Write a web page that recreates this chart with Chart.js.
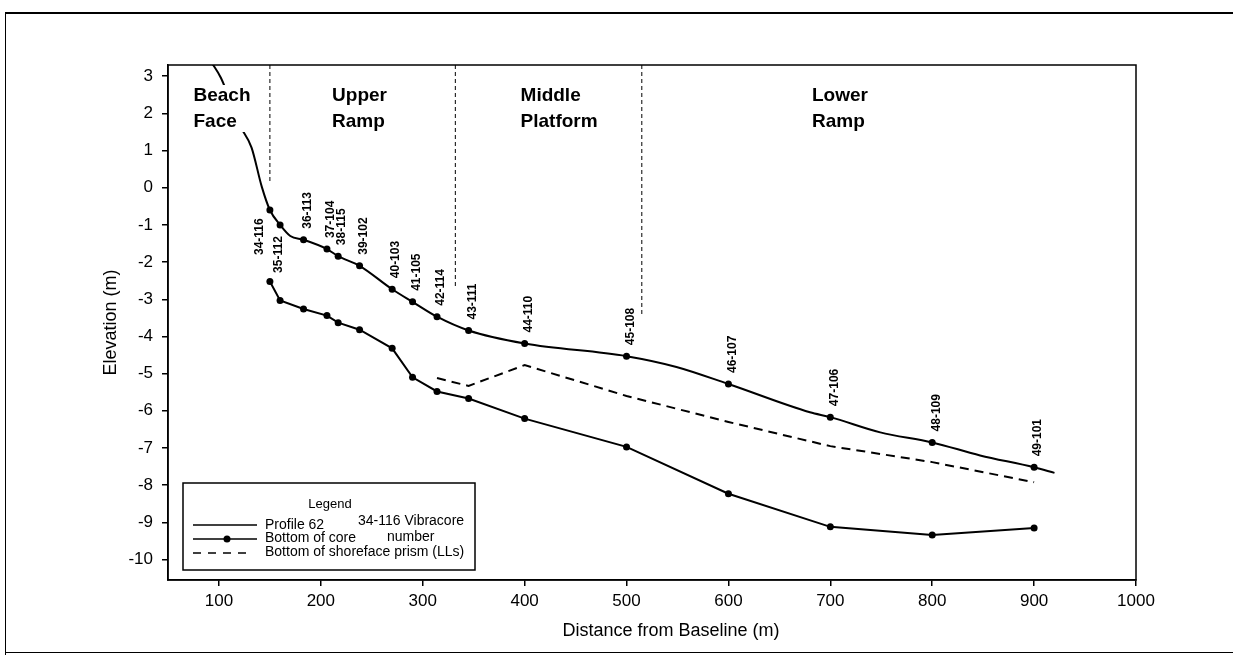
<!DOCTYPE html>
<html>
<head>
<meta charset="utf-8">
<title>Profile 62 - Vibracores</title>
<script src="https://cdn.jsdelivr.net/npm/chart.js@4.4.1/dist/chart.umd.min.js"></script>
<style>
  html, body { margin: 0; padding: 0; background: #fff; }
  #wrap { width: 1233px; height: 655px; position: relative; }
</style>
</head>
<body>
<div id="wrap"><canvas id="grafico"></canvas></div>
<script>
// Vibracores: distance from baseline, id, top (profile) and bottom elevation
const coreX = [150, 160, 183, 206, 217, 238, 270, 290, 314, 345, 400, 500, 600, 700, 800, 900];
const coreIds = ['34-116', '35-112', '36-113', '37-104', '38-115', '39-102', '40-103', '41-105',
                 '42-114', '43-111', '44-110', '45-108', '46-107', '47-106', '48-109', '49-101'];
const coreTop = [-0.6, -1.0, -1.4, -1.65, -1.84, -2.1, -2.73, -3.07, -3.47, -3.84, -4.19, -4.53, -5.28, -6.17, -6.85, -7.52];
const coreBottom = [-2.52, -3.03, -3.26, -3.44, -3.63, -3.82, -4.32, -5.10, -5.48, -5.67, -6.21, -6.97, -8.23, -9.12, -9.34, -9.15];

// Profile 62
const profileX = [92, 102, 120, 132, 142, 150, 160, 170, 183, 206, 217, 238, 270, 290, 314, 345, 400, 500, 549, 600, 680, 700, 749, 800, 847, 900, 920];
const profileY = [3.4, 2.95, 1.7, 1.08, 0.03, -0.6, -1.0, -1.3, -1.4, -1.65, -1.84, -2.1, -2.73, -3.07, -3.47, -3.84, -4.19, -4.53, -4.82, -5.28, -6.04, -6.17, -6.58, -6.85, -7.2, -7.52, -7.67];

// Bottom of shoreface prism (LLs)
const prismX = [314, 345, 400, 500, 600, 700, 800, 900];
const prismY = [-5.12, -5.33, -4.77, -5.6, -6.3, -6.95, -7.38, -7.92];

// Zones
const zoneX = [150, 332, 515];
const zoneLow = [0.15, -2.7, -3.45];
const zoneNames = [['Beach', 'Face'], ['Upper', 'Ramp'], ['Middle', 'Platform'], ['Lower', 'Ramp']];
const zoneLabelX = [75, 211, 396, 682];

const xTicks = [100, 200, 300, 400, 500, 600, 700, 800, 900, 1000];
const yTicks = [3, 2, 1, 0, -1, -2, -3, -4, -5, -6, -7, -8, -9, -10];

const FONT = '"Liberation Sans", Arial, Helvetica, sans-serif';
const Y_MIN = -10.55, Y_MAX = 3.3;

// labels that sit off the usual spot (index -> [dx, dy])
const labelShift = { 0: [-10, 45], 1: [-1, 48] };

const pts = (xs, ys) => xs.map((x, i) => ({ x: x, y: ys[i] }));

const zoneDatasets = zoneX.map((x, i) => ({
    data: [{ x: x, y: Y_MAX }, { x: x, y: zoneLow[i] }],
    showLine: true, borderColor: '#000', borderWidth: 1, borderDash: [4, 3], pointRadius: 0
}));

const decor = {
    id: 'decor',
    afterDraw(chart) {
        const { ctx, chartArea: a, scales: { x, y } } = chart;
        ctx.save();

        // plot frame
        ctx.strokeStyle = '#000';
        ctx.lineWidth = 1.5;
        ctx.strokeRect(a.left, a.top, a.right - a.left, a.bottom - a.top);

        // outer frame
        ctx.lineWidth = 2;
        ctx.beginPath(); ctx.moveTo(5, 13); ctx.lineTo(1233, 13); ctx.stroke();
        ctx.lineWidth = 1;
        ctx.beginPath(); ctx.moveTo(5.5, 13); ctx.lineTo(5.5, 655); ctx.stroke();
        ctx.beginPath(); ctx.moveTo(5, 652.5); ctx.lineTo(1233, 652.5); ctx.stroke();

        // zone names (white block hides the profile behind them)
        ctx.font = 'bold 19px ' + FONT;
        ctx.textAlign = 'left';
        ctx.textBaseline = 'alphabetic';
        zoneNames.forEach((lines, i) => {
            const px = x.getPixelForValue(zoneLabelX[i]);
            const w = Math.max(...lines.map(t => ctx.measureText(t).width));
            ctx.fillStyle = '#fff';
            ctx.fillRect(px - 1, a.top + 20, w + 2, 47);
            ctx.fillStyle = '#000';
            lines.forEach((t, j) => ctx.fillText(t, px, a.top + 35.5 + j * 26));
        });

        // vibracore numbers
        ctx.font = 'bold 12px ' + FONT;
        ctx.textBaseline = 'middle';
        coreIds.forEach((id, i) => {
            const s = labelShift[i] || [4, -11];
            ctx.save();
            ctx.translate(x.getPixelForValue(coreX[i]) + s[0], y.getPixelForValue(coreTop[i]) + s[1]);
            ctx.rotate(-Math.PI / 2);
            ctx.fillText(id, 0, 0);
            ctx.restore();
        });

        // axis titles
        ctx.font = '18px ' + FONT;
        ctx.textAlign = 'center';
        ctx.fillText('Distance from Baseline (m)', 671, 631);
        ctx.save();
        ctx.translate(111, (a.top + a.bottom) / 2);
        ctx.rotate(-Math.PI / 2);
        ctx.fillText('Elevation (m)', 0, 0);
        ctx.restore();

        // legend
        ctx.fillStyle = '#fff';
        ctx.fillRect(183, 483, 292, 87);
        ctx.lineWidth = 1.5;
        ctx.strokeRect(183, 483, 292, 87);
        ctx.fillStyle = '#000';
        ctx.font = '13px ' + FONT;
        ctx.fillText('Legend', 330, 504);
        ctx.font = '14px ' + FONT;
        ctx.textAlign = 'left';
        ctx.fillText('Profile 62', 265, 525);
        ctx.fillText('34-116 Vibracore', 358, 521);
        ctx.fillText('Bottom of core', 265, 538);
        ctx.fillText('number', 387, 537);
        ctx.fillText('Bottom of shoreface prism (LLs)', 265, 552);
        ctx.lineWidth = 1.5;
        ctx.beginPath(); ctx.moveTo(193, 525); ctx.lineTo(257, 525); ctx.stroke();
        ctx.beginPath(); ctx.moveTo(193, 539); ctx.lineTo(257, 539); ctx.stroke();
        ctx.beginPath(); ctx.arc(227, 539, 3.5, 0, Math.PI * 2); ctx.fill();
        ctx.setLineDash([8, 7]);
        ctx.beginPath(); ctx.moveTo(193, 553); ctx.lineTo(252, 553); ctx.stroke();
        ctx.restore();
    }
};

document.addEventListener('DOMContentLoaded', function () {
    const ctx = document.getElementById('grafico').getContext('2d');
    new Chart(ctx, {
        type: 'scatter',
        data: {
            datasets: zoneDatasets.concat([
                {
                    label: 'Bottom of shoreface prism (LLs)',
                    data: pts(prismX, prismY),
                    showLine: true, borderColor: '#000', borderWidth: 2, borderDash: [9, 6],
                    pointRadius: 0, tension: 0
                },
                {
                    label: 'Bottom of core',
                    data: pts(coreX, coreBottom),
                    showLine: true, borderColor: '#000', borderWidth: 2,
                    pointRadius: 3.5, backgroundColor: '#000', pointBorderWidth: 0
                },
                {
                    label: 'Profile 62',
                    data: pts(profileX, profileY),
                    showLine: true, borderColor: '#000', borderWidth: 2,
                    pointRadius: 0, cubicInterpolationMode: 'monotone'
                },
                {
                    label: 'Vibracore',
                    data: pts(coreX, coreTop),
                    showLine: false, pointRadius: 3.5, backgroundColor: '#000', pointBorderWidth: 0
                }
            ])
        },
        options: {
            responsive: true,
            maintainAspectRatio: false,
            animation: false,
            events: [],
            layout: { padding: { left: 0, top: 65, right: 97, bottom: 0 } },
            plugins: {
                legend: { display: false },
                tooltip: { enabled: false }
            },
            scales: {
                x: {
                    type: 'linear', min: 50, max: 1000,
                    afterBuildTicks: s => { s.ticks = xTicks.map(v => ({ value: v })); },
                    afterFit: s => { s.height = 75; },
                    grid: { drawOnChartArea: false, drawTicks: true, tickLength: 6, color: '#000', lineWidth: 1.5 },
                    border: { display: true, color: '#000', width: 1.5 },
                    ticks: {
                        color: '#000', font: { family: FONT, size: 17 }, padding: 5, autoSkip: false, maxRotation: 0,
                        callback: v => String(v)
                    }
                },
                y: {
                    type: 'linear', min: Y_MIN, max: Y_MAX,
                    afterBuildTicks: s => { s.ticks = yTicks.map(v => ({ value: v })); },
                    afterFit: s => { s.width = 168; },
                    grid: { drawOnChartArea: false, drawTicks: true, tickLength: 6, color: '#000', lineWidth: 1.5 },
                    border: { display: true, color: '#000', width: 1.5 },
                    ticks: {
                        color: '#000', font: { family: FONT, size: 17 }, padding: 9, autoSkip: false,
                        callback: v => String(v)
                    }
                }
            }
        },
        plugins: [decor]
    });
});
</script>
</body>
</html>
